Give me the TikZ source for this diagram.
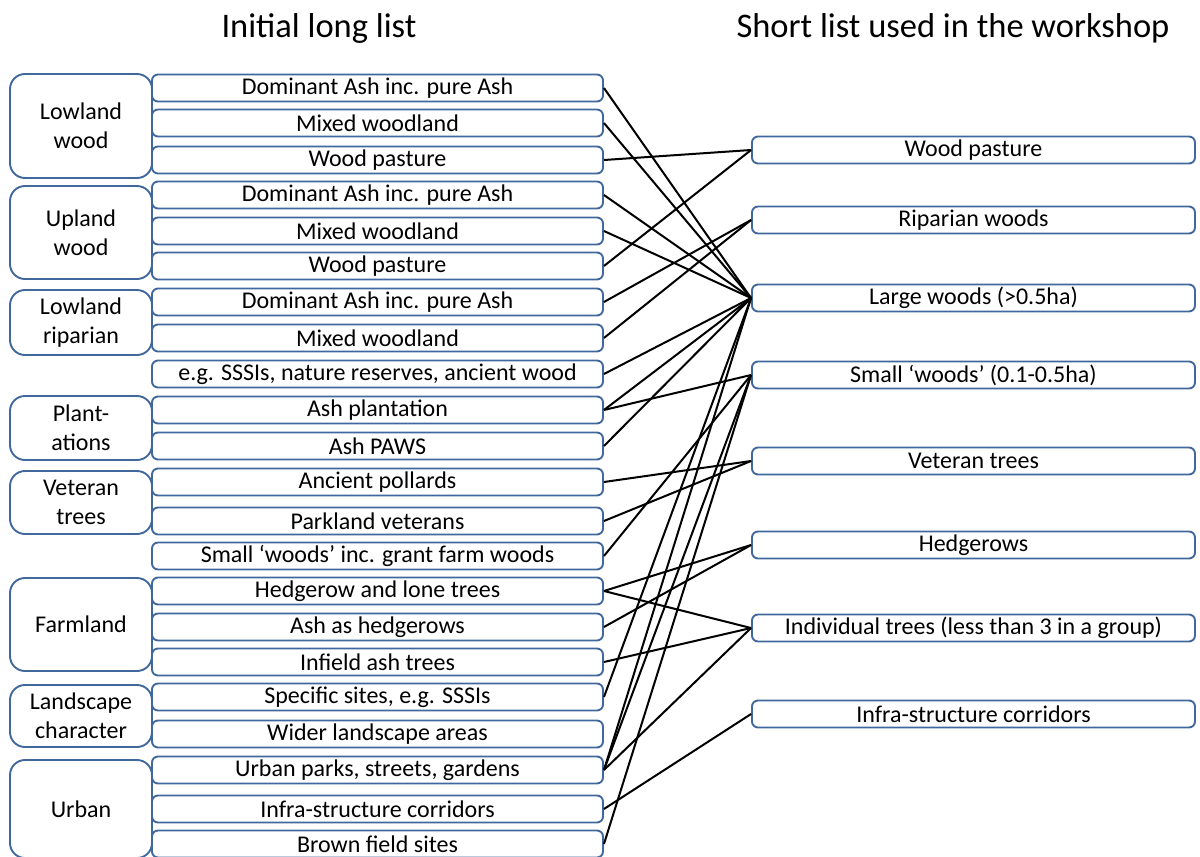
\documentclass[tikz,border=0pt]{standalone}
\usepackage{fontspec}
\setmainfont{Carlito}
\definecolor{bblue}{HTML}{41689C}
\begin{document}
\begin{tikzpicture}[x=1pt,y=-1pt,
  grp/.style={draw=bblue,line width=1.9pt,rounded corners=15pt,minimum width=142pt,inner sep=0pt,align=center,font=\fontsize{24}{29}\selectfont},
  itembox/.style={draw=bblue,line width=1.9pt,rounded corners=6pt,minimum width=451pt,minimum height=27pt,inner sep=0pt,font=\fontsize{24}{27}\selectfont},
  rbox/.style={draw=bblue,line width=1.9pt,rounded corners=6pt,minimum width=443pt,minimum height=27pt,inner sep=0pt,font=\fontsize{24}{27}\selectfont},
  ttl/.style={font=\fontsize{34.5}{40}\selectfont,inner sep=0pt},
  conn/.style={draw=black,line width=2pt}]
\useasboundingbox (0,0) rectangle (1200,857);
\fill[white] (0,0) rectangle (1200,857);
% titles
\node[ttl] (t1) at (319,28) {Initial long list};
\node[ttl] (t2) at (953,28) {Short list used in the workshop};
% groups
\node[grp,minimum height=104pt] (g1) at (81,126) {Lowland\\wood};
\node[grp,minimum height=93pt] (g2) at (81,232.5) {Upland\\wood};
\node[grp,minimum height=65pt] (g3) at (81,322.5) {Lowland\\riparian};
\node[grp,minimum height=64pt] (g4) at (81,428) {Plant-\\ations};
\node[grp,minimum height=63pt] (g5) at (81,502.5) {Veteran\\trees};
\node[grp,minimum height=93pt] (g6) at (81,624.5) {Farmland};
\node[grp,minimum height=62pt] (g7) at (81,716) {Landscape\\character};
\node[grp,minimum height=98pt] (g8) at (81,809) {Urban};
% items
\node[itembox] (i1) at (377.5,88) {Dominant Ash inc. pure Ash};
\node[itembox] (i2) at (377.5,123) {Mixed woodland};
\node[itembox] (i3) at (377.5,160) {Wood pasture};
\node[itembox] (i4) at (377.5,195) {Dominant Ash inc. pure Ash};
\node[itembox] (i5) at (377.5,231) {Mixed woodland};
\node[itembox] (i6) at (377.5,266) {Wood pasture};
\node[itembox] (i7) at (377.5,302) {Dominant Ash inc. pure Ash};
\node[itembox] (i8) at (377.5,338) {Mixed woodland};
\node[itembox] (i9) at (377.5,374) {e.g. SSSIs, nature reserves, ancient wood};
\node[itembox] (i10) at (377.5,410) {Ash plantation};
\node[itembox] (i11) at (377.5,446) {Ash PAWS};
\node[itembox] (i12) at (377.5,482) {Ancient pollards};
\node[itembox] (i13) at (377.5,521) {Parkland veterans};
\node[itembox] (i14) at (377.5,556) {Small ‘woods’ inc. grant farm woods};
\node[itembox] (i15) at (377.5,591) {Hedgerow and lone trees};
\node[itembox] (i16) at (377.5,627) {Ash as hedgerows};
\node[itembox] (i17) at (377.5,662) {Infield ash trees};
\node[itembox] (i18) at (377.5,697) {Specific sites, e.g. SSSIs};
\node[itembox] (i19) at (377.5,734) {Wider landscape areas};
\node[itembox] (i20) at (377.5,770) {Urban parks, streets, gardens};
\node[itembox] (i21) at (377.5,809) {Infra-structure corridors};
\node[itembox] (i22) at (377.5,844) {Brown field sites};
% right boxes
\node[rbox] (rA) at (973.5,150) {Wood pasture};
\node[rbox] (rB) at (973.5,220) {Riparian woods};
\node[rbox] (rC) at (973.5,298) {Large woods (>0.5ha)};
\node[rbox] (rD) at (973.5,375) {Small ‘woods’ (0.1-0.5ha)};
\node[rbox] (rE) at (973.5,461) {Veteran trees};
\node[rbox] (rF) at (973.5,545) {Hedgerows};
\node[rbox] (rG) at (973.5,628) {Individual trees (less than 3 in a group)};
\node[rbox] (rH) at (973.5,714) {Infra-structure corridors};
% connectors
\draw[conn] (i1.east) -- (rC.west);
\draw[conn] (i2.east) -- (rC.west);
\draw[conn] (i3.east) -- (rA.west);
\draw[conn] (i4.east) -- (rC.west);
\draw[conn] (i5.east) -- (rC.west);
\draw[conn] (i6.east) -- (rA.west);
\draw[conn] (i7.east) -- (rB.west);
\draw[conn] (i8.east) -- (rB.west);
\draw[conn] (i9.east) -- (rC.west);
\draw[conn] (i10.east) -- (rC.west);
\draw[conn] (i10.east) -- (rD.west);
\draw[conn] (i11.east) -- (rC.west);
\draw[conn] (i12.east) -- (rE.west);
\draw[conn] (i13.east) -- (rE.west);
\draw[conn] (i14.east) -- (rD.west);
\draw[conn] (i15.east) -- (rF.west);
\draw[conn] (i15.east) -- (rG.west);
\draw[conn] (i16.east) -- (rF.west);
\draw[conn] (i17.east) -- (rG.west);
\draw[conn] (i18.east) -- (rC.west);
\draw[conn] (i20.east) -- (rC.west);
\draw[conn] (i20.east) -- (rD.west);
\draw[conn] (i20.east) -- (rG.west);
\draw[conn] (i21.east) -- (rH.west);
\draw[conn] (i22.east) -- (rD.west);
\end{tikzpicture}
\end{document}
